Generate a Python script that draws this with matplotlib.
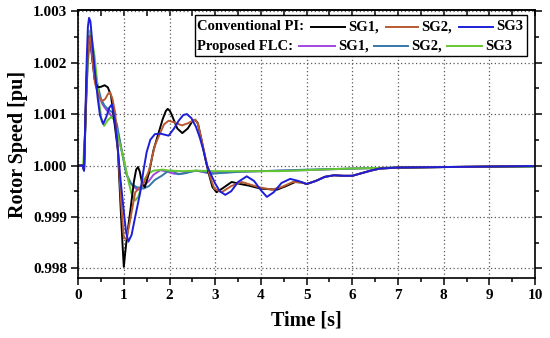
"""
Rotor speed response: conventional PI vs proposed FLC (SG1..SG3)
"""

import matplotlib
matplotlib.use("Agg")
import matplotlib.pyplot as plt
from matplotlib.patches import Rectangle
from matplotlib.ticker import MultipleLocator, FormatStrFormatter

# ── Data ─────────────────────────────────────────────────────────────────────
# Conventional PI, SG1
t_pi1 = [0, 0.10, 0.13, 0.16, 0.19, 0.22, 0.25, 0.28, 0.31, 0.36, 0.42, 0.50, 0.58,
         0.65, 0.72, 0.80, 0.87, 0.93, 0.97, 1.00, 1.03, 1.08, 1.14, 1.22, 1.27,
         1.31, 1.35, 1.40, 1.46, 1.55, 1.65, 1.75, 1.85, 1.92, 1.96, 2.01, 2.06,
         2.17, 2.28, 2.40, 2.50, 2.56, 2.62, 2.70, 2.78, 2.85, 2.94, 3.03, 3.15,
         3.36, 3.55, 3.73, 4.00, 4.35, 4.55, 4.75, 4.90, 5.00, 5.20, 5.40, 5.60,
         5.80, 6.00, 6.20, 6.40, 6.60, 7.00, 8.00, 9.00, 10.0]
w_pi1 = [1.0000, 1.0000, 0.99992, 1.0009, 1.0018, 1.00235, 1.00252, 1.0024, 1.0021,
         1.00168, 1.00152, 1.00153, 1.00156, 1.00152, 1.00136, 1.0008, 1.0003,
         0.9992, 0.9985, 0.99803, 0.9983, 0.9987, 0.9991, 0.99968, 0.99992,
         0.99997, 0.99988, 0.99966, 0.99958, 0.99985, 1.0003, 1.0006, 1.0009,
         1.00106, 1.0011, 1.00106, 1.00096, 1.00072, 1.00063, 1.00072, 1.00086,
         1.00089, 1.00082, 1.0005, 1.00015, 0.99987, 0.99958, 0.99948, 0.99955,
         0.99968, 0.99964, 0.99961, 0.99955, 0.99953, 0.9996, 0.99968, 0.99967,
         0.99964, 0.9997, 0.99978, 0.99981, 0.9998, 0.9998, 0.99985, 0.9999,
         0.99994, 0.99996, 0.99997, 0.99998, 0.99999]

# Conventional PI, SG2
t_pi2 = [0, 0.10, 0.13, 0.16, 0.19, 0.22, 0.25, 0.28, 0.31, 0.37, 0.45, 0.52, 0.59,
         0.66, 0.70, 0.75, 0.81, 0.88, 0.94, 1.00, 1.06, 1.12, 1.25, 1.36, 1.45,
         1.55, 1.68, 1.79, 1.88, 1.98, 2.10, 2.27, 2.40, 2.56, 2.62, 2.70, 2.80,
         2.88, 2.98, 3.14, 3.35, 3.58, 3.80, 3.95, 4.24, 4.45, 4.70, 4.90, 5.00,
         5.20, 5.40, 5.60, 5.80, 6.00, 6.20, 6.40, 6.60, 7.00, 8.00, 9.00, 10.0]
w_pi2 = [1.0000, 1.0000, 0.99992, 1.0009, 1.0018, 1.00235, 1.00252, 1.0024, 1.0021,
         1.0016, 1.00135, 1.00125, 1.00129, 1.0014, 1.00142, 1.0013, 1.00103,
         1.0002, 0.9993, 0.99859, 0.99858, 0.99885, 0.99948, 0.99958, 0.99968,
         0.9999, 1.00039, 1.00062, 1.0008, 1.00087, 1.00084, 1.00078, 1.00082,
         1.00089, 1.00082, 1.0005, 1.0001, 0.9998, 0.99955, 0.99948, 0.9996,
         0.99968, 0.99962, 0.99958, 0.99953, 0.99958, 0.99968, 0.99967, 0.99964,
         0.9997, 0.99978, 0.99981, 0.9998, 0.9998, 0.99985, 0.9999, 0.99994,
         0.99996, 0.99997, 0.99998, 0.99999]

# Conventional PI, SG3
t_pi3 = [0, 0.10, 0.13, 0.16, 0.19, 0.215, 0.24, 0.27, 0.30, 0.37, 0.43, 0.48,
         0.55, 0.62, 0.68, 0.74, 0.80, 0.85, 0.92, 1.00, 1.05, 1.10, 1.17, 1.26,
         1.36, 1.43, 1.50, 1.58, 1.68, 1.80, 1.98, 2.10, 2.20, 2.30, 2.38, 2.48,
         2.58, 2.66, 2.74, 2.82, 2.92, 3.00, 3.10, 3.22, 3.35, 3.50, 3.69, 3.85,
         4.00, 4.13, 4.28, 4.45, 4.64, 4.82, 5.00, 5.20, 5.40, 5.60, 5.80, 6.00,
         6.20, 6.40, 6.60, 7.00, 8.00, 9.00, 10.0]
w_pi3 = [1.0000, 1.0000, 0.9999, 1.0010, 1.0021, 1.0027, 1.00287, 1.0028, 1.0025,
         1.00181, 1.0013, 1.00097, 1.00081, 1.00095, 1.00112, 1.00119, 1.0009,
         1.00052, 0.9998, 0.9991, 0.9987, 0.99852, 0.99865, 0.99905, 0.99948,
         0.9999, 1.00026, 1.0005, 1.00061, 1.00062, 1.00058, 1.00072, 1.00087,
         1.00098, 1.001, 1.00092, 1.00075, 1.00055, 1.0003, 1.0000, 0.9998,
         0.99965, 0.9995, 0.99943, 0.9995, 0.99968, 0.99979, 0.9997, 0.99952,
         0.99939, 0.99948, 0.99966, 0.99974, 0.9997, 0.99964, 0.9997, 0.99978,
         0.99981, 0.9998, 0.9998, 0.99985, 0.9999, 0.99994, 0.99996, 0.99997,
         0.99998, 0.99999]

# Proposed FLC, SG1
t_flc1 = [0, 0.10, 0.13, 0.16, 0.19, 0.23, 0.26, 0.29, 0.32, 0.40, 0.48, 0.54,
          0.62, 0.70, 0.78, 0.88, 0.98, 1.07, 1.18, 1.28, 1.36, 1.45, 1.55, 1.65,
          1.80, 1.95, 2.10, 2.25, 2.45, 2.60, 2.80, 3.00, 3.50, 4.00, 5.00, 6.00,
          7.00, 8.00, 10.0]
w_flc1 = [1.0000, 1.0000, 0.9999, 1.0008, 1.0016, 1.0022, 1.00233, 1.0022, 1.0020,
          1.0016, 1.0013, 1.00118, 1.00108, 1.0010, 1.0009, 1.0006, 1.0002, 0.9998,
          0.99962, 0.99954, 0.99953, 0.99962, 0.9997, 0.99982, 0.99991, 0.99988,
          0.99984, 0.99984, 0.99988, 0.9999, 0.99986, 0.99985, 0.99988, 0.99989,
          0.99991, 0.99994, 0.99996, 0.99997, 0.99998]

# Proposed FLC, SG2
t_flc2 = [0, 0.10, 0.13, 0.16, 0.19, 0.23, 0.27, 0.30, 0.34, 0.43, 0.50, 0.58,
          0.67, 0.76, 0.85, 0.95, 1.05, 1.15, 1.28, 1.43, 1.55, 1.68, 1.83, 1.95,
          2.05, 2.19, 2.35, 2.56, 2.75, 2.93, 3.20, 3.60, 4.00, 5.00, 6.00, 7.00,
          8.00, 10.0]
w_flc2 = [1.0000, 1.0000, 0.9999, 1.0008, 1.0017, 1.00232, 1.00246, 1.0023, 1.0020,
          1.00155, 1.0013, 1.00116, 1.00108, 1.00103, 1.0008, 1.0003, 0.99985,
          0.99965, 0.99958, 0.99955, 0.9996, 0.99972, 0.9998, 0.99988, 0.9999,
          0.99983, 0.99985, 0.9999, 0.99988, 0.99984, 0.99986, 0.99988, 0.99989,
          0.99992, 0.99994, 0.99996, 0.99997, 0.99998]

# Proposed FLC, SG3
t_flc3 = [0, 0.11, 0.15, 0.18, 0.22, 0.25, 0.28, 0.31, 0.36, 0.42, 0.47, 0.52, 0.57,
          0.64, 0.72, 0.80, 0.88, 0.95, 1.03, 1.10, 1.17, 1.25, 1.32, 1.43, 1.55,
          1.65, 1.85, 2.00, 2.30, 2.60, 3.00, 3.50, 4.40, 5.00, 5.90, 7.00, 8.00,
          10.0]
w_flc3 = [1.0000, 1.0000, 1.0006, 1.0013, 1.0022, 1.00262, 1.00255, 1.0024, 1.00213,
          1.0016, 1.00116, 1.00085, 1.00077, 1.00087, 1.00094, 1.00089, 1.00052,
          1.0003, 1.0000, 0.9997, 0.99945, 0.99932, 0.9994, 0.99971, 0.99985,
          0.9999, 0.99992, 0.9999, 0.99989, 0.9999, 0.99989, 0.99989, 0.99989,
          0.99991, 0.99994, 0.99996, 0.99997, 0.99998]

SERIES = [
    ("PI",  "SG1", t_pi1,  w_pi1,  "#000000"),
    ("PI",  "SG2", t_pi2,  w_pi2,  "#B85A30"),
    ("PI",  "SG3", t_pi3,  w_pi3,  "#1E1ED8"),
    ("FLC", "SG1", t_flc1, w_flc1, "#A048E0"),
    ("FLC", "SG2", t_flc2, w_flc2, "#3478A8"),
    ("FLC", "SG3", t_flc3, w_flc3, "#66C830"),
]
ROW_TITLES = {"PI": "Conventional PI:", "FLC": "Proposed FLC:"}
GEN_LABELS = ["SG1,", "SG2,", "SG3"]

# ── Style ────────────────────────────────────────────────────────────────────
plt.rcParams["font.family"] = ["Liberation Serif", "DejaVu Serif"]
plt.rcParams["font.weight"] = "bold"

fig = plt.figure(figsize=(5.5, 3.38), dpi=100)
ax = fig.add_axes([0.142, 0.177, 0.831, 0.793])

# FLC first, PI drawn on top (as in the reference)
for group, gen, t, w, col in SERIES[3:] + SERIES[:3]:
    ax.plot(t, w, color=col, lw=1.4, solid_joinstyle="round")

ax.set_xlim(0, 10)
ax.set_ylim(0.99781, 1.00302)
ax.xaxis.set_major_locator(MultipleLocator(1))
ax.xaxis.set_minor_locator(MultipleLocator(0.5))
ax.yaxis.set_major_locator(MultipleLocator(0.001))
ax.yaxis.set_minor_locator(MultipleLocator(0.0005))
ax.yaxis.set_major_formatter(FormatStrFormatter("%.3f"))

ax.grid(which="major", linestyle=(0, (1, 2)), color="0.35", lw=0.9)
for s in ax.spines.values():
    s.set_linewidth(1.2)

ax.tick_params(which="both", direction="out", width=1.1, labelsize=11,
               left=True, bottom=True, right=True, top=False)
ax.tick_params(which="major", length=5)
ax.tick_params(which="minor", length=3)
ax.tick_params(which="both", labelright=False, pad=3)
for lab in ax.get_xticklabels() + ax.get_yticklabels():
    lab.set_fontweight("bold")

# top ticks point inward
sec = ax.secondary_xaxis("top")
sec.xaxis.set_major_locator(MultipleLocator(1))
sec.xaxis.set_minor_locator(MultipleLocator(0.5))
sec.tick_params(which="both", direction="in", length=4, width=1.1, labeltop=False)
sec.spines["top"].set_linewidth(1.2)

ax.set_xlabel("Time [s]", fontsize=14.5, fontweight="bold", labelpad=6)
ax.set_ylabel("Rotor Speed [pu]", fontsize=14.5, fontweight="bold", labelpad=3)

# ── Legend box (Origin style, two rows) ──────────────────────────────────────
ax.add_patch(Rectangle((0.256, 0.828), 0.726, 0.153, transform=ax.transAxes,
                       facecolor="white", edgecolor="black", lw=1.0, zorder=5))
rows = {
    "PI":  dict(y=0.938, title_x=0.261, segs=[(0.510, 0.584), (0.673, 0.744), (0.833, 0.908)]),
    "FLC": dict(y=0.866, title_x=0.261, segs=[(0.483, 0.562), (0.647, 0.722), (0.808, 0.884)]),
}
for group, spec in rows.items():
    ax.text(spec["title_x"], spec["y"], ROW_TITLES[group], transform=ax.transAxes,
            fontsize=10.5, fontweight="bold", va="center", ha="left", zorder=6)
    cols = [c for g, _, _, _, c in SERIES if g == group]
    for (x0, x1), col, lab in zip(spec["segs"], cols, GEN_LABELS):
        ax.plot([x0, x1], [spec["y"], spec["y"]], transform=ax.transAxes,
                color=col, lw=1.4, zorder=6, clip_on=False)
        ax.text(x1 + 0.007, spec["y"], lab, transform=ax.transAxes,
                fontsize=10.5, fontweight="bold", va="center", ha="left", zorder=6)

fig.savefig("out.png", dpi=100)
